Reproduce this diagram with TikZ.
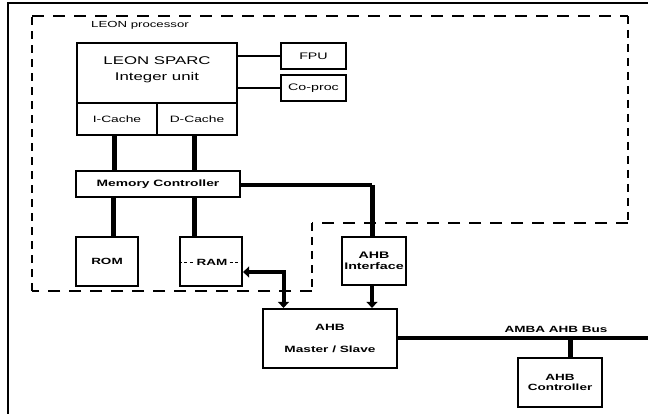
\documentclass[tikz,border=0pt]{standalone}
\usepackage{fontspec}
\setmainfont{Liberation Sans}[FakeStretch=1.5]
\usetikzlibrary{arrows.meta}
\newcommand\myfs[1]{\fontsize{#1}{#1}\selectfont}
\begin{document}
\begin{tikzpicture}[x=1pt,y=-1pt,
  box/.style={draw, line width=2.2pt, inner sep=0pt, align=center},
  thin box/.style={draw, line width=1.8pt, inner sep=0pt, align=center},
  reg/.style={font=\myfs{9.5}},
  bld/.style={font=\bfseries\myfs{9}},
  bus/.style={line width=5pt},
  hbus/.style={line width=4pt},
  lnk/.style={line width=1.2pt},
  tip/.style={-{Triangle[width=11pt,length=6pt]}},
  dtip/.style={{Triangle[width=11pt,length=6pt]}-{Triangle[width=11pt,length=6pt]}},
  frame/.style={line width=2.4pt},
  dash h/.style={line width=1.8pt, dash pattern=on 12pt off 9pt},
  dash v/.style={line width=2.6pt, dash pattern=on 8pt off 6pt}]
\useasboundingbox (0,0) rectangle (648,414);
\fill[white] (0,0) rectangle (648,414);
% outer frame
\draw[frame] (8,420) -- (8,3) -- (660,3);
% dashed processor boundary
\draw[dash h] (32,16) -- (628,16);
\draw[dash v] (628,16) -- (628,223);
\draw[dash h] (628,223) -- (312,223);
\draw[dash v] (312,223) -- (312,291);
\draw[dash h] (312,291) -- (32,291);
\draw[dash v] (32,291) -- (32,16);
\node[reg, font=\myfs{8.8}, anchor=west, inner sep=0pt] (lbl) at (91,25) {LEON processor};
% integer unit
\node[box, minimum width=160pt, minimum height=60pt] (iu) at (157,73) {};
\node[font=\myfs{11.2}, align=center, inner sep=0pt] (iutext) at (157,70) {LEON SPARC\\[5pt]Integer unit};
\node[box, reg, font=\myfs{9.2}, minimum width=80pt, minimum height=32pt] (ic) at (117,119) {I-Cache};
\node[box, reg, font=\myfs{9.2}, minimum width=80pt, minimum height=32pt] (dc) at (197,119) {D-Cache};
\node[thin box, reg, minimum width=65pt, minimum height=26pt] (fpu) at (313.5,56) {FPU};
\node[thin box, reg, minimum width=65pt, minimum height=26pt] (cop) at (313.5,88) {Co-proc};
\draw[lnk] (iu.east |- fpu.west) -- (fpu.west);
\draw[lnk] (iu.east |- cop.west) -- (cop.west);
% memory controller
\node[box, bld, font=\bfseries\myfs{9.2}, minimum width=164pt, minimum height=26pt] (mc) at (158,184) {Memory Controller};
\draw[bus] ([xshift=-3pt]ic.south) -- ([xshift=-3pt]ic.south |- mc.north);
\draw[bus] ([xshift=-2.5pt]dc.south) -- ([xshift=-2.5pt]dc.south |- mc.north);
% ROM / RAM
\node[box, bld, minimum width=62pt, minimum height=49pt] (rom) at (107,261.5) {ROM};
\node[box, minimum width=62pt, minimum height=49pt] (ram) at (211,261.5) {};
\node[bld, inner sep=2pt] (ramtxt) at (212,262) {RAM};
\draw[line width=0.6pt, dash pattern=on 3pt off 2.5pt] (ram.west |- ramtxt.west) -- (ramtxt.west);
\draw[line width=0.6pt, dash pattern=on 3pt off 2.5pt] (ramtxt.east) -- (ram.east |- ramtxt.east);
\draw[bus] (mc.south -| 113.5,0) -- (rom.north -| 113.5,0);
\draw[bus] (mc.south -| 194.5,0) -- (ram.north -| 194.5,0);
% AHB interface
\node[box, bld, font=\bfseries\myfs{9.5}, minimum width=64pt, minimum height=48pt] (ahbif) at (374,261) {AHB\\[1pt]Interface};
\coordinate (bend) at (372,185);
\draw[hbus] (mc.east |- bend) -- (bend);
\draw[bus] (bend) -- (bend |- ahbif.north);
% AHB master/slave
\node[box, bld, font=\bfseries\myfs{9.1}, minimum width=134pt, minimum height=59pt] (ms) at (330,338.5) {AHB\\[13pt]Master / Slave};
\draw[hbus, tip] (ahbif.south -| 372,0) -- (ms.north -| 372,0);
\coordinate (rb) at (283.5,272);
\draw[hbus, dtip] (ram.east |- rb) -- (rb) -- (rb |- ms.north);
% AMBA bus
\coordinate (busend) at (660,338);
\draw[hbus] (ms.east |- busend) -- (busend);
\node[bld, inner sep=0pt] (amba) at (556,329) {AMBA AHB Bus};
\node[box, bld, minimum width=84pt, minimum height=49pt] (ctrl) at (560,382.5) {AHB\\[1pt]Controller};
\coordinate (tap) at (570,338);
\draw[bus] (tap) -- (tap |- ctrl.north);
\end{tikzpicture}
\end{document}
